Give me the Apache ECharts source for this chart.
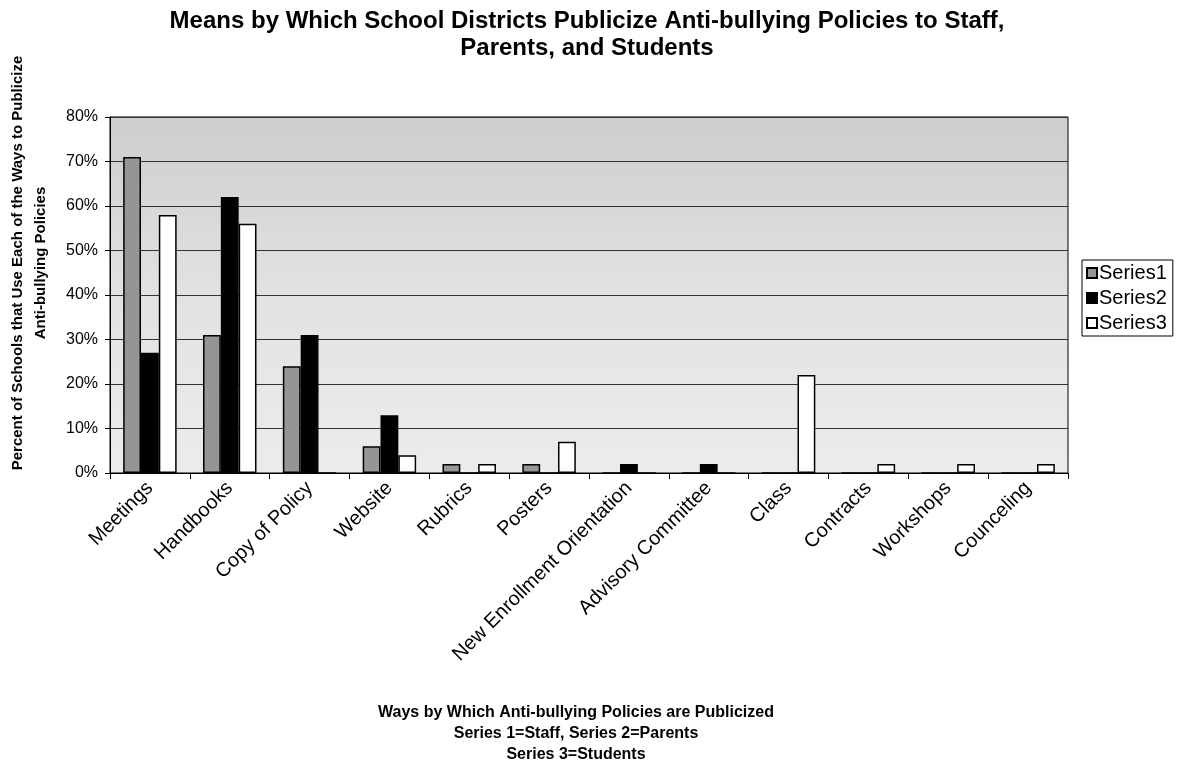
<!DOCTYPE html>
<html><head><meta charset="utf-8">
<script src="https://cdn.jsdelivr.net/npm/echarts@6/dist/echarts.min.js"></script>
<style>html,body{margin:0;padding:0;background:#fff}#c{width:1178px;height:767px}</style>
</head><body><div id="c"></div>
<script>
const categories = ['Meetings','Handbooks','Copy of Policy','Website','Rubrics','Posters','New Enrollment Orientation','Advisory Committee','Class','Contracts','Workshops','Counceling'];
const series1 = [71,31,24,6,2,2,0,0,0,0,0,0];
const series2 = [27,62,31,13,0,0,2,2,0,0,0,0];
const series3 = [58,56,0,4,2,7,0,0,22,2,2,2];
const seriesNames = ['Series1','Series2','Series3'];

const F = 'Liberation Sans, Arial, sans-serif';
const chart = echarts.init(document.getElementById('c'));
const colors = ['#959595','#000000','#ffffff'];
chart.setOption({
  animation:false,
  backgroundColor:'#fff',
  title:{text:'Means by Which School Districts Publicize Anti-bullying Policies to Staff,\nParents, and Students',
    left:582, textAlign:'center', top:3,
    textStyle:{fontFamily:F,fontSize:24,fontWeight:'bold',color:'#000',lineHeight:27}},
  legend:{orient:'vertical', left:1082, top:260, data:seriesNames,
    itemWidth:10,itemHeight:10,itemGap:5,padding:[3,6,3,4],
    borderColor:'#000',borderWidth:1,backgroundColor:'#fff',
    textStyle:{fontFamily:F,fontSize:20,color:'#000',lineHeight:20,padding:[0,0,0,-3]},
    icon:'rect'},
  grid:{left:110,right:110,top:117,bottom:294,show:true,
    backgroundColor:new echarts.graphic.LinearGradient(0,0,0,1,[{offset:0,color:'#cdcdcd'},{offset:0.5,color:'#e2e2e2'},{offset:1,color:'#ececec'}]),
    borderColor:'#000',borderWidth:1},
  xAxis:{type:'category',data:categories,
    axisLine:{lineStyle:{color:'#000',width:1}},
    axisTick:{show:true,alignWithLabel:false,length:6,lineStyle:{color:'#000'}},
    axisLabel:{rotate:45,fontFamily:F,fontSize:20,color:'#000',margin:12,interval:0}},
  yAxis:{type:'value',min:0,max:80,interval:10,
    axisLine:{show:true,lineStyle:{color:'#000'}},
    axisTick:{show:true,length:5,lineStyle:{color:'#000'}},
    splitLine:{lineStyle:{color:'#333',width:1}},
    axisLabel:{formatter:v=>v+'%',fontFamily:F,fontSize:16,color:'#000',margin:12}},
  graphic:[
    {type:'text',
     style:{text:'Percent of Schools that Use Each of the Ways to Publicize\nAnti-bullying Policies',
       font:'bold 15px '+F,fill:'#000',textAlign:'center',textVerticalAlign:'middle',lineHeight:23},
     x:29,y:263,rotation:Math.PI/2},
    {type:'text',
     style:{text:'Ways by Which Anti-bullying Policies are Publicized\nSeries 1=Staff, Series 2=Parents\nSeries 3=Students',
       font:'bold 16px '+F,fill:'#000',textAlign:'center',textVerticalAlign:'top',lineHeight:21},
     x:576,y:702}
  ],
  series:[series1,series2,series3].map((d,i)=>({
    name:seriesNames[i],type:'bar',data:d,barGap:'0%',barCategoryGap:'33%',
    itemStyle:{color:colors[i],borderColor:'#000',borderWidth:1.5}
  }))
});
</script></body></html>
